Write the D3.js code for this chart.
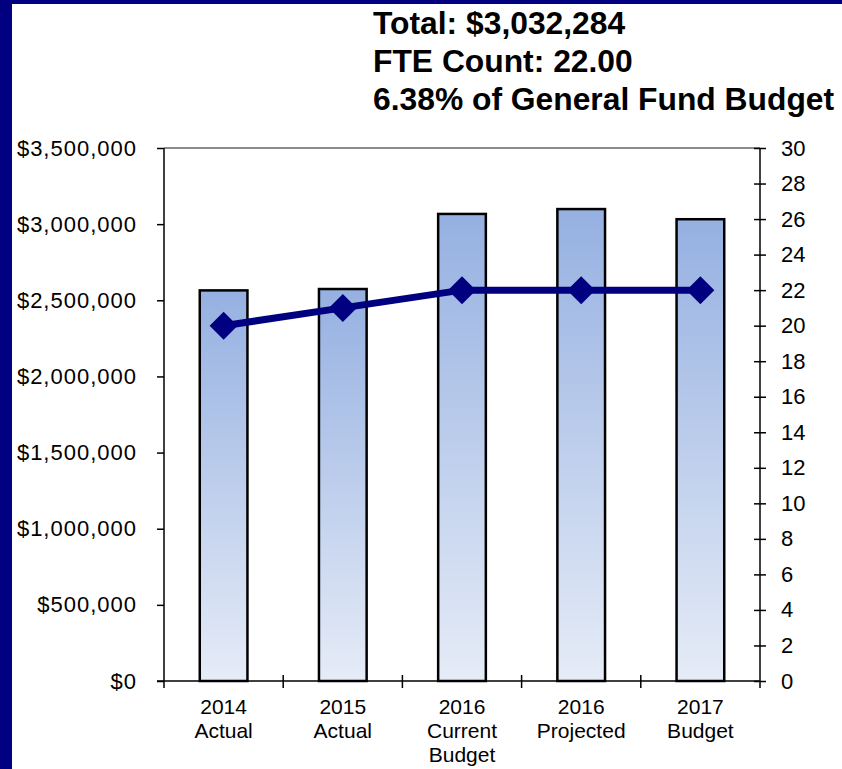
<!DOCTYPE html>
<html>
<head>
<meta charset="utf-8">
<script src="https://cdn.jsdelivr.net/npm/d3@7"></script>
<style>
  html, body { margin: 0; padding: 0; background: #fff; }
  svg { display: block; font-family: "Liberation Sans", Arial, sans-serif; }
</style>
</head>
<body>
<svg id="chart" width="842" height="769"></svg>
<script>
// Budget history: expenditures (bars, left axis) and FTE count (line, right axis)
const categories = [
  ["2014", "Actual"],
  ["2015", "Actual"],
  ["2016", "Current", "Budget"],
  ["2016", "Projected"],
  ["2017", "Budget"]
];
const expenditures = [2565000, 2574000, 3067000, 3099000, 3032284];
const fteCounts = [20, 21, 22, 22, 22];
const dollarTicks = [0, 500000, 1000000, 1500000, 2000000, 2500000, 3000000, 3500000];
const fteTicks = [0, 2, 4, 6, 8, 10, 12, 14, 16, 18, 20, 22, 24, 26, 28, 30];
const titleLines = ["Total: $3,032,284", "FTE Count: 22.00", "6.38% of General Fund Budget"];

const svg = d3.select("#chart");
const W = 842, H = 769;
const plot = { left: 164, right: 760, top: 148, bottom: 681 };
const navy = "#000080";
const font = "Liberation Sans, Arial, sans-serif";

// Frame edges
svg.append("rect").attr("x", 0).attr("y", 0).attr("width", W).attr("height", 4).attr("fill", navy);
svg.append("rect").attr("x", 0).attr("y", 0).attr("width", 12).attr("height", H).attr("fill", navy);

// Title block
svg.append("g").selectAll("text").data(titleLines).join("text")
  .attr("x", 373)
  .attr("y", (d, i) => 34 + i * 38)
  .attr("font-size", 31.8)
  .attr("font-weight", "bold")
  .attr("fill", "#000")
  .text(d => d);

const keys = categories.map((c, i) => i);
const x = d3.scaleBand().domain(keys).range([plot.left, plot.right])
  .paddingInner(0.6).paddingOuter(0.3);
const yL = d3.scaleLinear().domain([0, 3500000]).range([plot.bottom, plot.top]);
const yR = d3.scaleLinear().domain([0, 30]).range([plot.bottom, plot.top]);

// Bar gradient
const defs = svg.append("defs");
const grad = defs.append("linearGradient").attr("id", "barGrad")
  .attr("x1", 0).attr("y1", 0).attr("x2", 0).attr("y2", 1);
grad.append("stop").attr("offset", "0%").attr("stop-color", "#95b0e1");
grad.append("stop").attr("offset", "100%").attr("stop-color", "#e6ecf7");

// Top border of plot area
svg.append("line")
  .attr("x1", plot.left).attr("x2", plot.right)
  .attr("y1", plot.top).attr("y2", plot.top)
  .attr("stroke", "#8c8c8c").attr("stroke-width", 2);

// Bars
svg.append("g").selectAll("rect").data(expenditures).join("rect")
  .attr("x", (d, i) => x(i))
  .attr("y", d => yL(d))
  .attr("width", x.bandwidth())
  .attr("height", d => yL(0) - yL(d))
  .attr("fill", "url(#barGrad)")
  .attr("stroke", "#000")
  .attr("stroke-width", 2.5);

// Left axis
const leftAxis = svg.append("g")
  .attr("transform", `translate(${plot.left},0)`)
  .call(d3.axisLeft(yL).tickValues(dollarTicks).tickSize(7).tickSizeOuter(0).tickPadding(20)
    .tickFormat(d => "$" + d3.format(",")(d)));
leftAxis.select(".domain").remove();
leftAxis.selectAll(".tick line").attr("stroke", "#000").attr("stroke-width", 1.5);
leftAxis.selectAll(".tick text")
  .attr("fill", "#000")
  .style("font-size", "22px")
  .style("letter-spacing", "1px")
  .style("font-family", font);
svg.append("line").attr("x1", plot.left).attr("x2", plot.left)
  .attr("y1", plot.top).attr("y2", plot.bottom + 7)
  .attr("stroke", "#000").attr("stroke-width", 1.5);

// Right axis
const rightAxis = svg.append("g")
  .attr("transform", `translate(${plot.right},0)`)
  .call(d3.axisRight(yR).tickValues(fteTicks).tickSize(0).tickPadding(21));
rightAxis.select(".domain").remove();
rightAxis.selectAll(".tick line").attr("x1", -6).attr("x2", 6)
  .attr("stroke", "#000").attr("stroke-width", 1.5);
rightAxis.selectAll(".tick text")
  .attr("fill", "#000")
  .style("font-size", "22px")
  .style("font-family", font);
svg.append("line").attr("x1", plot.right).attr("x2", plot.right)
  .attr("y1", plot.top).attr("y2", plot.bottom + 7)
  .attr("stroke", "#000").attr("stroke-width", 1.5);

// Bottom axis: baseline and category separators
svg.append("line").attr("x1", plot.left - 7).attr("x2", plot.right)
  .attr("y1", plot.bottom).attr("y2", plot.bottom)
  .attr("stroke", "#000").attr("stroke-width", 1.5);
const step = x.step();
const bounds = d3.range(1, categories.length).map(i => x(i) - x.paddingInner() * step / 2);
svg.append("g").selectAll("line").data(bounds).join("line")
  .attr("x1", d => d).attr("x2", d => d)
  .attr("y1", plot.bottom - 6).attr("y2", plot.bottom + 7)
  .attr("stroke", "#000").attr("stroke-width", 1.5);

// Category labels
const catLabels = svg.append("g").selectAll("text").data(categories).join("text")
  .attr("font-size", 21)
  .attr("fill", "#000")
  .attr("text-anchor", "middle")
  .attr("transform", (d, i) => `translate(${x(i) + x.bandwidth() / 2},714)`);
catLabels.selectAll("tspan").data(d => d).join("tspan")
  .attr("x", 0)
  .attr("y", (d, j) => j * 24)
  .text(d => d);

// FTE line with diamond markers
const line = d3.line()
  .x((d, i) => x(i) + x.bandwidth() / 2)
  .y(d => yR(d));
svg.append("path").datum(fteCounts)
  .attr("d", line)
  .attr("fill", "none")
  .attr("stroke", navy)
  .attr("stroke-width", 7);
const diamond = d3.symbol().type(d3.symbolSquare).size(2 * 14 * 14);
svg.append("g").selectAll("path").data(fteCounts).join("path")
  .attr("d", diamond)
  .attr("transform", (d, i) => `translate(${x(i) + x.bandwidth() / 2},${yR(d)}) rotate(45)`)
  .attr("fill", navy);
</script>
</body>
</html>
